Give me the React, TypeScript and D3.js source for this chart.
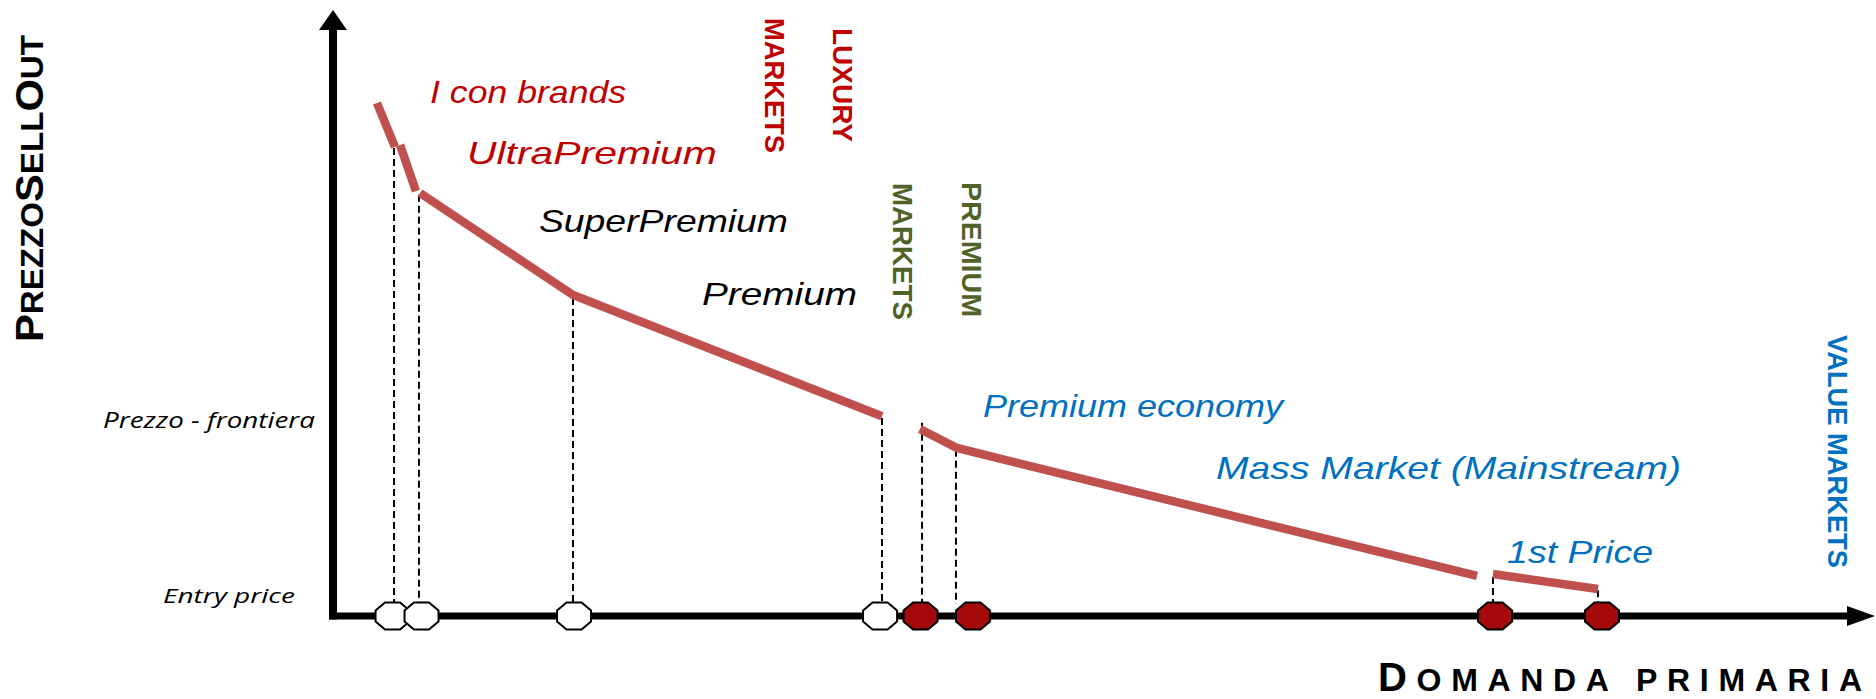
import React from "react";
import * as d3 from "d3";

// Price curve: each entry is one drawn stroke (demand, price) in chart units 0–100.
const priceCurve: [number, number][][] = [
  [[2.93, 85.5], [4.13, 78.17]],
  [[4.47, 78.5], [5.53, 70.83]],
  [[5.8, 70.5], [16.0, 53.5], [36.6, 33.3]],
  [[39.13, 31.17], [41.6, 28.0], [76.27, 6.67]],
  [[77.33, 7.0], [84.33, 4.5]],
];

// Vertical drop lines from the curve to the demand axis.
const dropX = [4.07, 5.73, 16.0, 36.6, 39.27, 41.53, 77.33, 84.33];
const dropTop = [78.0, 70.2, 53.0, 33.0, 32.2, 27.7, 6.5, 4.3];

// Segment markers on the demand axis.
const markerX = [3.97, 5.9, 16.07, 36.47, 39.17, 42.67, 77.47, 84.6];
const markerKind = ["open", "open", "open", "open", "filled", "filled", "filled", "filled"];

// Segment names with their anchor (demand, price).
const segmentNames = [
  "I con brands",
  "UltraPremium",
  "SuperPremium",
  "Premium",
  "Premium economy",
  "Mass Market (Mainstream)",
  "1st Price",
];
const segmentAnchorX = [6.47, 8.93, 13.73, 24.6, 43.33, 58.87, 78.27];
const segmentAnchorY = [85.5, 75.33, 64.0, 51.83, 33.17, 22.83, 8.83];
const segmentGroup = ["luxury", "luxury", "premium", "premium", "value", "value", "value"];

// Market group headings.
const marketLines = ["LUXURY", "MARKETS", "PREMIUM", "MARKETS", "VALUE MARKETS"];
const marketGroup = ["luxury", "luxury", "premiumMk", "premiumMk", "value"];

// Price reference levels on the price axis.
const priceLevelNames = ["Prezzo - frontiera", "Entry price"];

const W = 1876;
const H = 699;

const x = d3.scaleLinear().domain([0, 100]).range([333, 1833]);
const y = d3.scaleLinear().domain([0, 100]).range([616, 16]);

const segColor: Record<string, string> = {
  luxury: "#C00000",
  premium: "#000000",
  value: "#0070C0",
};
const mkColor: Record<string, string> = {
  luxury: "#C00000",
  premiumMk: "#4F6228",
  value: "#0070C0",
};

// label widths (px) and market heading placement
const segWidths = [196, 250, 249, 155, 300, 465, 146];
const mkPlace = [
  { bx: 833, top: 28, len: 114 },
  { bx: 765, top: 18, len: 135 },
  { bx: 962, top: 182, len: 135 },
  { bx: 893, top: 183, len: 137 },
  { bx: 1828, top: 335, len: 233 },
];

const octagon = (cx: number, cy: number) => {
  const hw = 17, hh = 13.5, a = 7.5, b = 5.5;
  const pts = [
    [-a, -hh], [a, -hh], [hw, -b], [hw, b], [a, hh], [-a, hh], [-hw, b], [-hw, -b],
  ];
  return pts.map(([px, py]) => `${cx + px},${cy + py}`).join(" ");
};

export default function App() {
  const line = d3
    .line<[number, number]>()
    .x((d) => x(d[0]))
    .y((d) => y(d[1]));

  const axisY = y(0);
  const axisX = x(0);

  return (
    <svg
      width={W}
      height={H}
      viewBox={`0 0 ${W} ${H}`}
      style={{ position: "absolute", left: 0, top: 0, background: "#fff" }}
    >
      <rect x={0} y={0} width={W} height={H} fill="#fff" />

      {/* drop lines */}
      {dropX.map((dx, i) => (
        <line
          key={"d" + i}
          x1={x(dx)}
          x2={x(dx)}
          y1={y(dropTop[i])}
          y2={axisY - 12}
          stroke="#000"
          strokeWidth={2}
          strokeDasharray="7 4"
        />
      ))}

      {/* price curve */}
      {priceCurve.map((pts, i) => (
        <path
          key={"c" + i}
          d={line(pts) || ""}
          fill="none"
          stroke="#C0504D"
          strokeWidth={8.5}
          strokeLinecap="butt"
          strokeLinejoin="miter"
        />
      ))}

      {/* axes */}
      <line x1={axisX} x2={axisX} y1={28} y2={axisY + 3.5} stroke="#000" strokeWidth={8} />
      <polygon points={`${axisX},10 ${axisX - 14},30 ${axisX + 14},30`} fill="#000" />
      <line x1={axisX - 4} x2={1850} y1={axisY} y2={axisY} stroke="#000" strokeWidth={7} />
      <polygon points={`1875,${axisY} 1847,${axisY - 10} 1847,${axisY + 10}`} fill="#000" />

      {/* markers */}
      {markerX.map((mx, i) => (
        <polygon
          key={"m" + i}
          points={octagon(x(mx), axisY)}
          fill={markerKind[i] === "filled" ? "#A50A0A" : "#fff"}
          stroke="#000"
          strokeWidth={2}
        />
      ))}

      {/* segment names */}
      {segmentNames.map((s, i) => (
        <text
          key={"s" + i}
          x={x(segmentAnchorX[i])}
          y={y(segmentAnchorY[i])}
          fill={segColor[segmentGroup[i]]}
          fontFamily="'Liberation Sans', Arial, sans-serif"
          fontStyle="italic"
          fontSize={32}
          textLength={segWidths[i]}
          lengthAdjust="spacingAndGlyphs"
        >
          {s}
        </text>
      ))}

      {/* market headings */}
      {marketLines.map((s, i) => (
        <text
          key={"k" + i}
          transform={`translate(${mkPlace[i].bx},${mkPlace[i].top}) rotate(90)`}
          fill={mkColor[marketGroup[i]]}
          fontFamily="'Liberation Sans', Arial, sans-serif"
          fontWeight="bold"
          fontSize={27}
          textLength={mkPlace[i].len}
          lengthAdjust="spacingAndGlyphs"
        >
          {s}
        </text>
      ))}

      {/* price levels */}
      <text
        x={103}
        y={428}
        fontFamily="'Open Sans', sans-serif"
        fontStyle="italic"
        fontSize={21}
        fill="#000"
        textLength={212}
        lengthAdjust="spacingAndGlyphs"
      >
        {priceLevelNames[0]}
      </text>
      <text
        x={163}
        y={603}
        fontFamily="'Open Sans', sans-serif"
        fontStyle="italic"
        fontSize={20}
        fill="#000"
        textLength={132}
        lengthAdjust="spacingAndGlyphs"
      >
        {priceLevelNames[1]}
      </text>

      {/* axis titles */}
      <text
        transform="translate(43,342) rotate(-90)"
        fontFamily="'Liberation Sans', Arial, sans-serif"
        fontWeight="bold"
        fill="#000"
        textLength={307}
        lengthAdjust="spacingAndGlyphs"
      >
        <tspan fontSize={39}>P</tspan>
        <tspan fontSize={31}>REZZO</tspan>
        <tspan fontSize={39}>S</tspan>
        <tspan fontSize={31}>ELL</tspan>
        <tspan fontSize={39}>O</tspan>
        <tspan fontSize={31}>UT</tspan>
      </text>
      <text
        x={1378}
        y={691}
        fontFamily="'Liberation Sans', Arial, sans-serif"
        fontWeight="bold"
        fill="#000"
        textLength={484}
        lengthAdjust="spacing"
      >
        <tspan fontSize={40}>D</tspan>
        <tspan fontSize={32}>OMANDA PRIMARIA</tspan>
      </text>
    </svg>
  );
}
